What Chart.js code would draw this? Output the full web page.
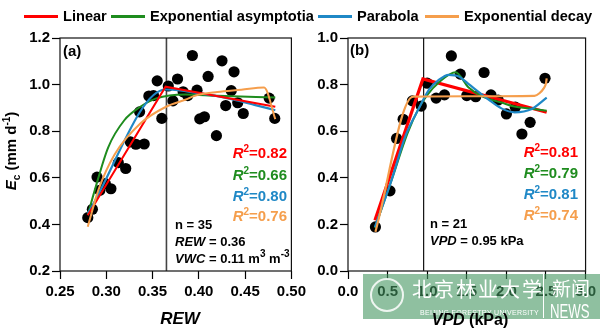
<!DOCTYPE html>
<html>
<head>
<meta charset="utf-8">
<script src="https://cdn.jsdelivr.net/npm/chart.js@4/dist/chart.umd.min.js"></script>
<style>
  body { margin: 0; background: #fff; }
  #wrap { position: relative; width: 600px; height: 328px; overflow: hidden; font-family: "Liberation Sans", Arial, sans-serif; font-weight: bold; color: #000; }
  canvas { position: absolute; top: 0; }
  .abs { position: absolute; white-space: nowrap; line-height: 1; }
  .leg { position: absolute; top: 8px; font-size: 14.6px; display: flex; align-items: center; white-space: nowrap; }
  .leg span.ln { display: inline-block; width: 34px; height: 3px; margin-right: 5px; }
  .r2 { font-size: 15px; text-align: right; }
  .r2 sup, .note sup { font-size: 10px; vertical-align: 6px; line-height: 0; }
  .note { font-size: 13px; }
  #wm { position: absolute; left: 363px; top: 274px; width: 237px; height: 45px; background: rgba(68,150,97,0.6); color: #fff; font-weight: normal; }
</style>
</head>
<body>
<div id="wrap">
  <canvas id="chartA" width="310" height="328" style="left:0"></canvas>
  <canvas id="chartB" width="300" height="328" style="left:300px"></canvas>

  <div class="leg" style="left:24px"><span class="ln" style="background:#ff0000"></span>Linear</div>
  <div class="leg" style="left:111px"><span class="ln" style="background:#1e8c1e"></span>Exponential asymptotia</div>
  <div class="leg" style="left:318px"><span class="ln" style="background:#1f88c6"></span>Parabola</div>
  <div class="leg" style="left:425px"><span class="ln" style="background:#f59e4c"></span>Exponential decay</div>

  <div class="abs" style="left:-30px; top:141px; width:84px; font-size:15px; text-align:center; transform:rotate(-90deg);"><i>E</i><sub style="font-size:10px">c</sub> (mm d<sup style="font-size:10px">-1</sup>)</div>

  <div class="abs" style="left:63px; top:43px; font-size:15px;">(a)</div>
  <div class="abs" style="left:350px; top:42px; font-size:15px;">(b)</div>

  <div class="abs r2" style="right:313px; top:145px; color:#ff0000"><i>R</i><sup>2</sup>=0.82</div>
  <div class="abs r2" style="right:313px; top:167px; color:#1e8c1e"><i>R</i><sup>2</sup>=0.66</div>
  <div class="abs r2" style="right:313px; top:188px; color:#1f88c6"><i>R</i><sup>2</sup>=0.80</div>
  <div class="abs r2" style="right:313px; top:208px; color:#f59e4c"><i>R</i><sup>2</sup>=0.76</div>

  <div class="abs r2" style="right:22px; top:144px; color:#ff0000"><i>R</i><sup>2</sup>=0.81</div>
  <div class="abs r2" style="right:22px; top:165px; color:#1e8c1e"><i>R</i><sup>2</sup>=0.79</div>
  <div class="abs r2" style="right:22px; top:186px; color:#1f88c6"><i>R</i><sup>2</sup>=0.81</div>
  <div class="abs r2" style="right:22px; top:207px; color:#f59e4c"><i>R</i><sup>2</sup>=0.74</div>

  <div class="abs note" style="left:175px; top:218px;">n = 35</div>
  <div class="abs note" style="left:175px; top:235px;"><i>REW</i> = 0.36</div>
  <div class="abs note" style="left:175px; top:252px;"><i>VWC</i> = 0.11 m<sup>3</sup> m<sup>-3</sup></div>
  <div class="abs note" style="left:430px; top:217px;">n = 21</div>
  <div class="abs note" style="left:430px; top:234px;"><i>VPD</i> = 0.95 kPa</div>

  <div id="wm">
    <div class="abs" style="left:7px; top:4px; width:30px; height:30px; border:2px solid rgba(255,255,255,0.85); border-radius:50%;"></div>
    <div class="abs" style="left:49px; top:5px; font-size:20px; font-family:'Noto Sans CJK SC'; letter-spacing:2px;">北京林业大学</div>
    <div class="abs" style="left:57px; top:35px; font-size:7px; letter-spacing:0.3px; font-family:'Liberation Sans';">BEIJING FORESTRY UNIVERSITY</div>
    <div class="abs" style="left:180px; top:0; width:1px; height:44px; background:#fff;"></div>
    <div class="abs" style="left:189px; top:4px; font-size:19px; font-family:'Noto Sans CJK SC';">新闻</div>
    <div class="abs" style="left:187px; top:27px; font-size:20px; font-family:'Liberation Sans'; transform:scaleX(0.66); transform-origin:left top;">NEWS</div>
  </div>

  <div class="abs" style="left:130px; top:310px; width:100px; text-align:center; font-size:17px; font-style:italic;">REW</div>
  <div class="abs" style="left:420px; top:312px; width:100px; text-align:center; font-size:16px;"><i>VPD</i> (kPa)</div>
</div>

<script>
// panel (a): Ec vs REW
const rewObs = [0.280, 0.285, 0.290, 0.293, 0.299, 0.305, 0.313, 0.321, 0.326, 0.332, 0.341, 0.336,
  0.346, 0.351, 0.355, 0.360, 0.367, 0.372, 0.377, 0.383, 0.388, 0.393, 0.398, 0.401, 0.406, 0.410,
  0.419, 0.425, 0.429, 0.435, 0.438, 0.442, 0.448, 0.476, 0.482];
const ecObsA = [0.429, 0.465, 0.603, 0.546, 0.575, 0.553, 0.665, 0.640, 0.754, 0.744, 0.745, 0.883,
  0.951, 0.953, 1.016, 0.855, 0.994, 0.930, 1.024, 0.969, 0.953, 1.125, 0.976, 0.853, 0.862, 1.035,
  0.781, 1.102, 0.910, 0.974, 1.055, 0.922, 0.876, 0.942, 0.855];

const linAx = [0.280, 0.364, 0.4826];
const linAy = [0.439, 0.991, 0.905];
const expAx = [0.280, 0.2875, 0.302, 0.3195, 0.3368, 0.354, 0.3854, 0.42, 0.4826];
const expAy = [0.440, 0.546, 0.730, 0.847, 0.905, 0.941, 0.958, 0.952, 0.945];
const parAx = [0.280, 0.364, 0.380, 0.3958, 0.420, 0.440, 0.460, 0.4826];
const parAy = [0.446, 0.979, 0.975, 0.965, 0.950, 0.933, 0.913, 0.890];
const decAx = [0.280, 0.2917, 0.309, 0.3368, 0.3646, 0.3854, 0.3958, 0.420, 0.446, 0.4705, 0.4826];
const decAy = [0.390, 0.550, 0.700, 0.833, 0.905, 0.935, 0.952, 0.968, 0.978, 0.988, 0.852];

// panel (b): Ec vs VPD
const vpdObs = [0.346, 0.530, 0.613, 0.696, 0.813, 0.925, 1.000, 1.113, 1.218, 1.305, 1.418,
  1.500, 1.613, 1.718, 1.805, 1.896, 2.000, 2.113, 2.196, 2.300, 2.488];
const ecObsB = [0.189, 0.344, 0.569, 0.651, 0.730, 0.708, 0.806, 0.742, 0.756, 0.923, 0.845,
  0.753, 0.748, 0.852, 0.756, 0.734, 0.674, 0.703, 0.588, 0.638, 0.827];

const linBx = [0.340, 0.946, 2.509];
const linBy = [0.218, 0.824, 0.681];
const expBx = [0.340, 0.55, 0.75, 0.896, 1.0, 1.15, 1.359, 1.52, 1.70, 1.9375, 2.10, 2.30, 2.509];
const expBy = [0.185, 0.390, 0.590, 0.700, 0.755, 0.810, 0.853, 0.789, 0.748, 0.723, 0.706, 0.697, 0.688];
const parBx = [0.340, 0.55, 0.73, 0.896, 1.021, 1.146, 1.271, 1.40, 1.52, 1.771, 1.9375, 2.105, 2.3125, 2.509];
const parBy = [0.188, 0.390, 0.584, 0.698, 0.777, 0.820, 0.842, 0.835, 0.803, 0.737, 0.698, 0.681, 0.694, 0.744];
const decBx = [0.346, 0.821, 1.50, 2.355, 2.417, 2.471, 2.500, 2.509];
const decBy = [0.168, 0.748, 0.750, 0.752, 0.763, 0.784, 0.806, 0.827];

const xTicksA = [0.25, 0.30, 0.35, 0.40, 0.45, 0.50];
const yTicksA = [0.2, 0.4, 0.6, 0.8, 1.0, 1.2];
const xTicksB = [0.0, 0.5, 1.0, 1.5, 2.0, 2.5, 3.0];
const yTicksB = [0.0, 0.2, 0.4, 0.6, 0.8, 1.0];

const thresholdA = 0.365;
const thresholdB = 0.955;

const RED = '#ff0000', GREEN = '#1e8c1e', BLUE = '#1f88c6', ORANGE = '#f59e4c';
const tickFont = { family: "'Liberation Sans', Arial, sans-serif", size: 15, weight: 'bold' };

const zip = (xs, ys) => xs.map((x, i) => ({ x: x, y: ys[i] }));

function fitLine(xs, ys, color, width, order, smooth) {
  return {
    data: zip(xs, ys),
    showLine: true,
    borderColor: color,
    borderWidth: width,
    pointRadius: 0,
    cubicInterpolationMode: smooth ? 'monotone' : 'default',
    tension: 0,
    order: order
  };
}

const framePlugin = {
  id: 'frame',
  beforeDatasetsDraw(chart, args, opts) {
    const { ctx, chartArea: a, scales } = chart;
    ctx.save();
    const xv = scales.x.getPixelForValue(opts.threshold);
    ctx.strokeStyle = opts.lineColor;
    ctx.lineWidth = opts.lineWidth;
    ctx.beginPath();
    ctx.moveTo(xv, a.top);
    ctx.lineTo(xv, a.bottom);
    ctx.stroke();
    ctx.strokeStyle = '#111';
    ctx.lineWidth = 1.2;
    ctx.strokeRect(a.left, a.top, a.right - a.left, a.bottom - a.top);
    ctx.restore();
  }
};

function makeChart(id, cfg) {
  return new Chart(document.getElementById(id), {
    type: 'scatter',
    data: {
      datasets: [
        { data: zip(cfg.obsX, cfg.obsY), backgroundColor: '#000', borderWidth: 0, pointRadius: 5.6, order: 10 },
        cfg.lines[0], cfg.lines[1], cfg.lines[2], cfg.lines[3]
      ]
    },
    options: {
      responsive: false,
      animation: false,
      events: [],
      layout: { padding: { top: 38, right: cfg.padRight, left: 0, bottom: 0 } },
      plugins: {
        legend: { display: false },
        tooltip: { enabled: false },
        frame: { threshold: cfg.threshold, lineColor: cfg.thrColor, lineWidth: cfg.thrWidth }
      },
      scales: {
        x: {
          type: 'linear', min: cfg.xMin, max: cfg.xMax,
          afterBuildTicks: s => { s.ticks = cfg.xTicks.map(v => ({ value: v })); },
          afterFit: s => { s.height = 57; },
          ticks: { font: tickFont, color: '#000', padding: 4, maxRotation: 0, callback: v => v.toFixed(cfg.xDec) },
          grid: { drawOnChartArea: false, tickLength: 8, color: '#000', tickWidth: 1.2 },
          border: { display: false }
        },
        y: {
          min: cfg.yMin, max: cfg.yMax,
          afterBuildTicks: s => { s.ticks = cfg.yTicks.map(v => ({ value: v })); },
          afterFit: s => { s.width = cfg.yWidth; },
          ticks: { font: tickFont, color: '#000', padding: 2, callback: v => v.toFixed(1) },
          grid: { drawOnChartArea: false, tickLength: 8, color: '#000', tickWidth: 1.2 },
          border: { display: false }
        }
      }
    },
    plugins: [framePlugin]
  });
}

makeChart('chartA', {
  obsX: rewObs, obsY: ecObsA,
  lines: [
    fitLine(expAx, expAy, GREEN, 2, 4, true),
    fitLine(parAx, parAy, BLUE, 2.2, 3, true),
    fitLine(linAx, linAy, RED, 2, 2, false),
    fitLine(decAx, decAy, ORANGE, 2, 1, true)
  ],
  threshold: thresholdA, thrColor: '#444', thrWidth: 1.6,
  xMin: 0.25, xMax: 0.5, xTicks: xTicksA, xDec: 2,
  yMin: 0.2, yMax: 1.2, yTicks: yTicksA,
  yWidth: 60, padRight: 10
});

makeChart('chartB', {
  obsX: vpdObs, obsY: ecObsB,
  lines: [
    fitLine(linBx, linBy, RED, 3.2, 4, false),
    fitLine(expBx, expBy, GREEN, 2, 3, true),
    fitLine(parBx, parBy, BLUE, 2.2, 2, true),
    fitLine(decBx, decBy, ORANGE, 2.2, 1, true)
  ],
  threshold: thresholdB, thrColor: '#111', thrWidth: 1.2,
  xMin: 0, xMax: 3, xTicks: xTicksB, xDec: 1,
  yMin: 0, yMax: 1, yTicks: yTicksB,
  yWidth: 48, padRight: 12
});
</script>
</body>
</html>
